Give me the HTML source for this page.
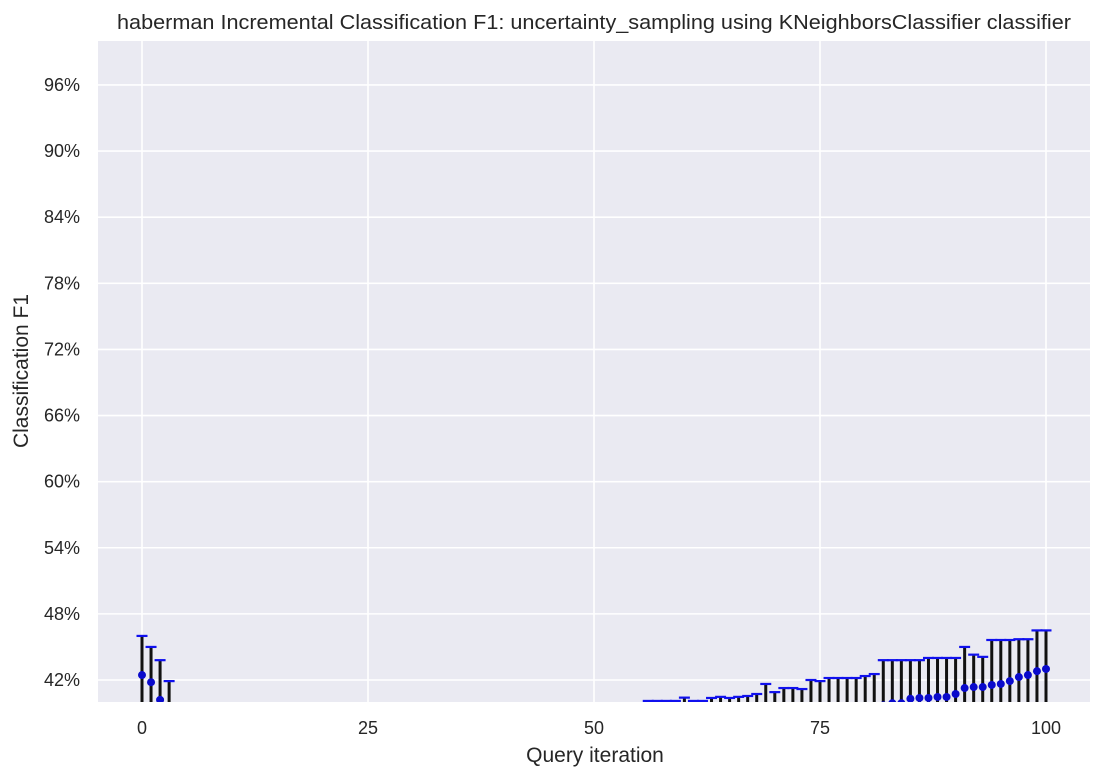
<!DOCTYPE html>
<html><head><meta charset="utf-8"><style>
html,body{margin:0;padding:0;background:#fff;}
svg{display:block;font-family:"Liberation Sans","DejaVu Sans",sans-serif;}
</style></head><body>
<svg id="chart" width="1104" height="779" viewBox="0 0 1104 779">
<text x="594" y="29" text-anchor="middle" font-size="20" textLength="954" lengthAdjust="spacingAndGlyphs" fill="#262626">haberman Incremental Classification F1: uncertainty_sampling using KNeighborsClassifier classifier</text>
<rect x="98" y="41" width="992" height="661" fill="#eaeaf2"/>
<g id="grid"></g>
<g id="ticks"></g>
<defs><clipPath id="clip"><rect x="98" y="41" width="992" height="661"/></clipPath></defs>
<g id="marks" clip-path="url(#clip)"></g>
<text x="595" y="762" text-anchor="middle" font-size="21" fill="#262626">Query iteration</text>
<text transform="translate(28,371) rotate(-90)" text-anchor="middle" font-size="21" fill="#262626">Classification F1</text>
</svg>
<script>
const xTicks = [0, 25, 50, 75, 100];
const yTicks = [42, 48, 54, 60, 66, 72, 78, 84, 90, 96];
const iterations = Array.from({length: 101}, (_, i) => i);
const means = [
 42.45, 41.8, 40.2, 38.4, 37, 37, 37, 37, 37, 37,
 37, 37, 37, 37, 37, 37, 37, 37, 37, 37,
 37, 37, 37, 37, 37, 37, 37, 37, 37, 37,
 37, 37, 37, 37, 37, 37, 37, 37, 37, 37,
 37, 37, 37, 37, 37, 37, 37, 37, 37, 37,
 37, 37, 37, 37, 37, 37, 36.5, 36.5, 36.5, 36.5,
 36.8, 36.5, 36.5, 36.8, 36.9, 36.8, 36.9, 36.95, 37.1, 38.0,
 37.3, 37.7, 37.7, 37.6, 38.4, 38.3, 38.6, 38.6, 38.6, 38.6,
 38.8, 38.9, 39.7, 39.9, 39.9, 40.3, 40.37, 40.37, 40.46, 40.46,
 40.73, 41.27, 41.36, 41.36, 41.55, 41.64, 41.9, 42.27, 42.45, 42.8,
 43.0];
const errors = [
 3.55, 3.2, 3.6, 3.5, 2.5, 2.5, 2.5, 2.5, 2.5, 2.5,
 2.5, 2.5, 2.5, 2.5, 2.5, 2.5, 2.5, 2.5, 2.5, 2.5,
 2.5, 2.5, 2.5, 2.5, 2.5, 2.5, 2.5, 2.5, 2.5, 2.5,
 2.5, 2.5, 2.5, 2.5, 2.5, 2.5, 2.5, 2.5, 2.5, 2.5,
 2.5, 2.5, 2.5, 2.5, 2.5, 2.5, 2.5, 2.5, 2.5, 2.5,
 2.5, 2.5, 2.5, 2.5, 2.5, 2.5, 3.6, 3.6, 3.6, 3.6,
 3.6, 3.6, 3.6, 3.57, 3.57, 3.57, 3.57, 3.6, 3.63, 3.64,
 3.6, 3.57, 3.57, 3.58, 3.6, 3.6, 3.58, 3.58, 3.58, 3.58,
 3.56, 3.64, 4.1, 3.9, 3.9, 3.5, 3.43, 3.63, 3.54, 3.54,
 3.27, 3.73, 2.94, 2.74, 4.08, 3.99, 3.73, 3.43, 3.25, 3.7,
 3.5];
const NS='http://www.w3.org/2000/svg';
const L=98,R=1090,T=41,B=702;
const xs = v => 142 + (v - 0) * 9.04;
const ys = v => 680 - (v - 42) * 11.02;
function mk(tag, attrs, parent){const e=document.createElementNS(NS,tag);for(const k in attrs)e.setAttribute(k,attrs[k]);parent.appendChild(e);return e;}
const grid=document.getElementById('grid'), ticks=document.getElementById('ticks'), marks=document.getElementById('marks');
xTicks.forEach(t=>{
  const g=mk('line',{x1:xs(t),x2:xs(t),y1:T,y2:B,stroke:'#fff','stroke-width':1.6},grid);
  
  
  const l=mk('text',{x:xs(t),y:734,'text-anchor':'middle','font-size':18,fill:'#262626'},ticks);
  l.textContent=t;
  
  
});
yTicks.forEach(t=>{
  const g=mk('line',{x1:L,x2:R,y1:ys(t),y2:ys(t),stroke:'#fff','stroke-width':1.6},grid);
  
  
  const l=mk('text',{x:80,y:ys(t)+6,'text-anchor':'end','font-size':18,fill:'#262626'},ticks);
  l.textContent=t+'%';
  
  
});
iterations.forEach((it,i)=>{
  const x=xs(it), m=means[i], e=errors[i];
  const bar=mk('line',{x1:x,x2:x,y1:ys(m-e),y2:ys(m+e),stroke:'#111','stroke-width':3},marks);
  
  
  const cap=mk('line',{x1:x-5.5,x2:x+5.5,y1:ys(m+e),y2:ys(m+e),stroke:'#1010ee','stroke-width':2.2},marks);
  
  
});
iterations.forEach((it,i)=>{
  const d=mk('circle',{cx:xs(it),cy:ys(means[i]),r:4,fill:'#0a0acc'},marks);
  
  
});
</script>
</body></html>
